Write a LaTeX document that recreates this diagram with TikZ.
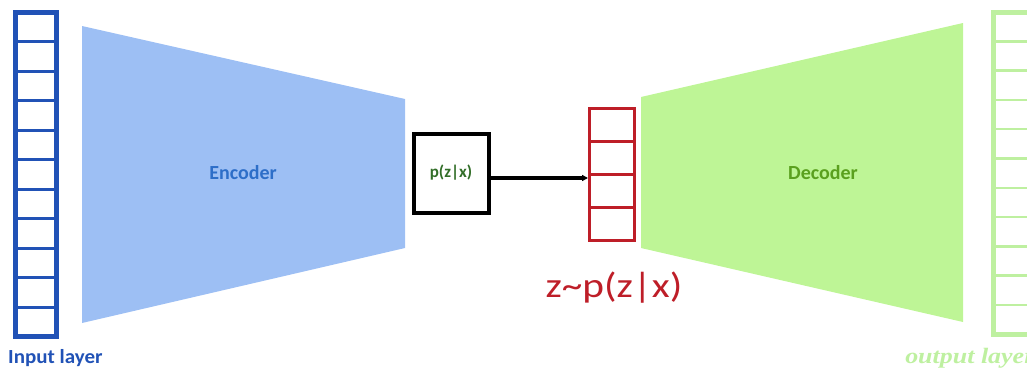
\documentclass[tikz,border=0pt]{standalone}
\usepackage{fontspec}
\setmainfont{Carlito}
\newfontfamily\outfont{Liberation Serif}
\usetikzlibrary{arrows.meta}
\definecolor{inblue}{RGB}{33,82,182}
\definecolor{encfill}{RGB}{157,191,244}
\definecolor{enctext}{RGB}{45,110,200}
\definecolor{decfill}{RGB}{190,245,150}
\definecolor{dectext}{RGB}{90,160,30}
\definecolor{outgreen}{RGB}{190,240,160}
\definecolor{latred}{RGB}{190,30,40}
\definecolor{pgreen}{RGB}{50,110,40}
\tikzset{
  lbl/.style={inner sep=0pt},
}
\begin{document}
\begin{tikzpicture}[x=1pt,y=-1pt]
\useasboundingbox (0,0) rectangle (1027,370);
% input layer
\foreach \i in {0,...,10} {
  \draw[inblue, line width=3pt] (15,{12+\i*29.5}) rectangle (56,{12+(\i+1)*29.5});
}
\draw[inblue, line width=5pt] (15,12) rectangle (56,336.5);
\node[lbl, text=inblue, font=\bfseries\fontsize{20}{22}\selectfont, anchor=base west, xscale=1.05] (inlab) at (8,363) {Input layer};
% encoder
\fill[encfill] (82,26) -- (405,99) -- (405,248) -- (82,323) -- cycle;
\node[lbl, text=enctext, font=\bfseries\fontsize{20}{22}\selectfont] (enc) at (243,173) {Encoder};
% p(z|x)
\node[draw=black, line width=4pt, minimum width=75pt, minimum height=79pt, inner sep=0pt, font=\bfseries\fontsize{17}{19}\selectfont, text=pgreen] (pzx) at (451,173) {p(z|x)};
% latent
\foreach \i in {0,...,3} {
  \draw[latred, line width=3pt] (589,{108+\i*33}) rectangle (634,{108+(\i+1)*33});
}
\coordinate (lat) at (588,178);
\draw[-{Triangle[length=6pt,width=6pt]}, line width=4pt] (pzx.east |- lat) -- (lat);
\node[text=latred, inner sep=0pt, font=\fontsize{35}{38}\selectfont, anchor=base, xscale=1.18] (zlab) at (614,297) {z\textasciitilde p(z|x)};
% decoder
\fill[decfill] (641,97) -- (963,23) -- (963,322) -- (641,248) -- cycle;
\node[lbl, text=dectext, font=\bfseries\fontsize{20}{22}\selectfont] (dec) at (823,173) {Decoder};
% output layer
\foreach \i in {0,...,10} {
  \draw[outgreen, line width=2.5pt] (993,{12+\i*29.3}) rectangle (1040,{12+(\i+1)*29.3});
}
\draw[outgreen, line width=5pt] (993,12) rectangle (1040,334);
\node[text=outgreen, inner sep=0pt, font=\outfont\bfseries\itshape\fontsize{22}{24}\selectfont, anchor=base west, xscale=1.18] (outlab) at (905,363) {output layer};
\end{tikzpicture}
\end{document}
